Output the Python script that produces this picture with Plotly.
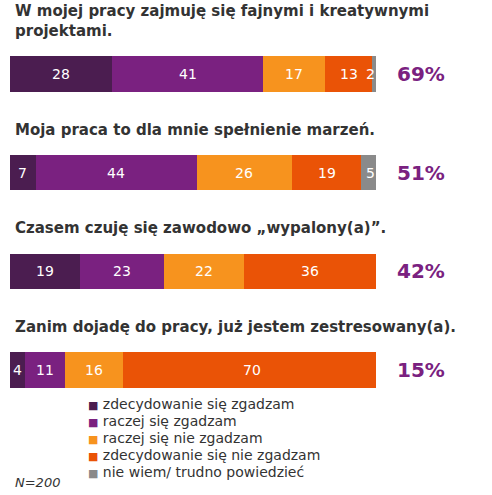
"""
stacked likert bars (polish survey, N=200) rebuilt in plotly.
"""
import plotly.graph_objects as go

statements = [
    "W mojej pracy zajmuję się fajnymi i kreatywnymi<br>projektami.",
    "Moja praca to dla mnie spełnienie marzeń.",
    "Czasem czuję się zawodowo „wypalony(a)”.",
    "Zanim dojadę do pracy, już jestem zestresowany(a).",
]
answers = [
    "zdecydowanie się zgadzam",
    "raczej się zgadzam",
    "raczej się nie zgadzam",
    "zdecydowanie się nie zgadzam",
    "nie wiem/ trudno powiedzieć",
]
strongly_agree = [28, 7, 19, 4]
rather_agree = [41, 44, 23, 11]
rather_disagree = [17, 26, 22, 16]
strongly_disagree = [13, 19, 36, 70]
dont_know = [2, 5, 1, 1]
agree_total = [69, 51, 42, 15]
sample_note = "N=200"

series = [strongly_agree, rather_agree, rather_disagree, strongly_disagree, dont_know]
colors = ["#4b1d50", "#7a2180", "#f7931e", "#ea5306", "#8a8a8a"]
FONT = "DejaVu Sans"
H = 495

ypos = list(range(len(statements)))

fig = go.Figure()
for name, vals, col in zip(answers, series, colors):
    fig.add_trace(go.Bar(
        y=ypos, x=vals, name=name, orientation="h",
        marker=dict(color=col, line=dict(width=0)),
        width=0.355, textposition="none", hoverinfo="x+name",
    ))

# segment labels (white, centred; a very thin grey one gets nudged left like the original)
for i in ypos:
    left = 0
    for j, vals in enumerate(series):
        v = vals[i]
        fig.add_annotation(
            x=left + v / 2, y=i, text=str(v), showarrow=False,
            xshift=-6 if (j == 4 and v < 3) else 0,
            font=dict(family=FONT, size=14, color="white"),
        )
        left += v
    fig.add_annotation(
        xref="paper", x=1.123, y=i, xanchor="center", text=f"<b>{agree_total[i]}%</b>",
        showarrow=False, font=dict(family=FONT, size=20, color="#7a2180"),
    )
    fig.add_annotation(
        xref="paper", x=0.008, y=i, yshift=32, xanchor="left", yanchor="bottom",
        text=f"<b>{statements[i]}</b>", showarrow=False, align="left",
        font=dict(family=FONT, size=15, color="#333333"),
    )

# legend drawn as text rows, 17px apart (plotly's own legend is too loose here)
for k, (a, c) in enumerate(zip(answers, colors)):
    fig.add_annotation(
        xref="paper", yref="paper", x=0.208, y=(H - 404 - 17 * k) / H,
        xanchor="left", yanchor="middle", showarrow=False,
        text=f"<span style='color:{c};font-size:11px'>■</span> {a}",
        font=dict(family=FONT, size=14, color="#333333"),
    )

fig.add_annotation(
    xref="paper", yref="paper", x=0.008, y=(H - 482) / H, xanchor="left", yanchor="middle",
    text=f"<i>{sample_note}</i>", showarrow=False,
    font=dict(family=FONT, size=13, color="#333333"),
)

fig.update_layout(
    width=492, height=H, barmode="stack",
    margin=dict(l=10, r=116, t=0, b=0),
    paper_bgcolor="white", plot_bgcolor="white",
    font=dict(family=FONT, color="#333333"),
    xaxis=dict(range=[0, 100], visible=False, fixedrange=True),
    yaxis=dict(range=[4.267, -0.75], visible=False, fixedrange=True),
    showlegend=False,
)

fig.write_html(
    "out.html",
    config={"displayModeBar": False},
    post_script="document.body.style.margin='0';",
)
